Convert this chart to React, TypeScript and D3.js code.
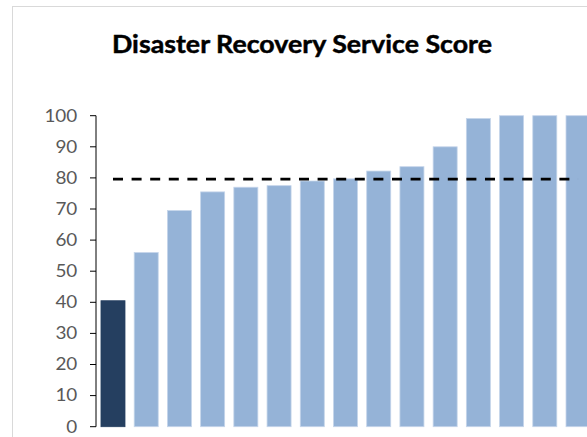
import React from "react";
import * as d3 from "d3";

// Service scores per provider, sorted ascending; the first one is highlighted
const providers = [
  "P01", "P02", "P03", "P04", "P05", "P06", "P07", "P08",
  "P09", "P10", "P11", "P12", "P13", "P14", "P15",
];
const scores = [40.5, 56, 69.5, 75.5, 77, 77.5, 79, 79.7, 82.2, 83.6, 90, 99.1, 100, 100, 100];
const highlighted = ["P01"];
const averageScore = 79.6;
const yTicks = [0, 10, 20, 30, 40, 50, 60, 70, 80, 90, 100];
const title = "Disaster Recovery Service Score";

const W = 587;
const H = 437;

export default function App() {
  const x = d3
    .scaleBand<string>()
    .domain(providers)
    .range([96, 595])
    .paddingInner(0.277)
    .paddingOuter(0.15);
  const y = d3.scaleLinear().domain([0, 100]).range([426.7, 115.7]);
  const bw = x.bandwidth();

  const avgLine = d3
    .line<string>()
    .x((d) => (x(d) as number) + bw / 2)
    .y(() => y(averageScore));
  const avgPath = avgLine([providers[0], providers[providers.length - 1]]) || "";

  return (
    <svg
      width={W}
      height={H}
      style={{ position: "absolute", left: 0, top: 0, background: "#fff" }}
    >
      <rect x={12.5} y={6.5} width={800} height={600} fill="#fff" stroke="#d9d9d9" />
      <text
        x={112}
        y={53.3}
        textLength={380}
        lengthAdjust="spacingAndGlyphs"
        fontFamily="Lato, 'Noto Sans', sans-serif"
        fontWeight={700}
        fontSize={23.8}
        fill="#000"
        stroke="#000"
        strokeWidth={0.45}
      >
        {title}
      </text>

      {providers.map((p, i) => (
        <rect
          key={p}
          x={x(p)}
          y={y(scores[i])}
          width={bw}
          height={y(0) - y(scores[i])}
          fill={highlighted.includes(p) ? "#253f60" : "#95b3d7"}
          stroke={highlighted.includes(p) ? "#253f60" : "#c5d5ea"}
          strokeWidth={0.8}
        />
      ))}

      <path d={avgPath} fill="none" stroke="#000" strokeWidth={2.6} strokeDasharray="10,8.6" />

      <line x1={96} x2={96} y1={y(100)} y2={y(0)} stroke="#000" strokeWidth={1} />
      {yTicks.map((t) => (
        <g key={t}>
          <line x1={90} x2={96} y1={y(t)} y2={y(t)} stroke="#000" strokeWidth={1} />
          <g transform={`translate(77.3, ${y(t)}) scale(1.16, 1)`}>
            <text
              textAnchor="end"
              dy="0.36em"
              fontFamily="Lato, 'Noto Sans', sans-serif"
              fontSize={16.3}
              fill="#595959"
            >
              {t}
            </text>
          </g>
        </g>
      ))}
    </svg>
  );
}
